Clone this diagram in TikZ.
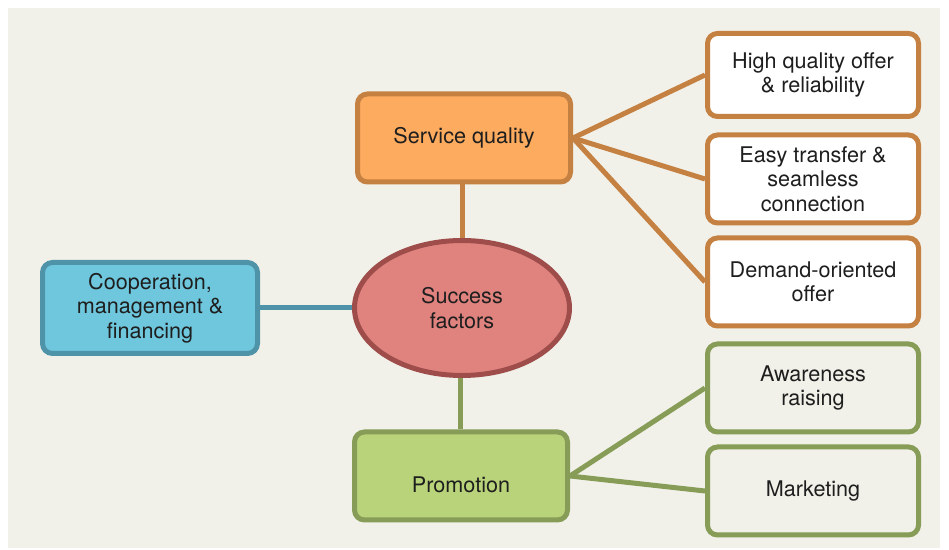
\documentclass[tikz,border=0pt]{standalone}
\usepackage{fontspec}
\setmainfont{TeX Gyre Heros}
\usetikzlibrary{shapes.geometric,backgrounds}

\definecolor{bgpaper}{HTML}{F1F1E9}
\definecolor{sqfill}{HTML}{FDAB5F}
\definecolor{sqline}{HTML}{C58142}
\definecolor{sffill}{HTML}{E0837E}
\definecolor{sfline}{HTML}{9E4D4A}
\definecolor{cofill}{HTML}{6EC7DD}
\definecolor{coline}{HTML}{4F93A8}
\definecolor{prfill}{HTML}{B9D37A}
\definecolor{prline}{HTML}{869C57}
\definecolor{txt}{HTML}{1E1E1E}

\tikzset{
  box/.style={draw, line width=2.5pt, rounded corners=5pt, align=center,
    text=txt, inner sep=0pt, minimum width=106.5pt, minimum height=44pt,
    font=\fontsize{10.8}{12.2}\selectfont},
  leaf/.style={box, minimum width=105.5pt},
  link/.style={line width=2.5pt},
}

\begin{document}
\begin{tikzpicture}[x=0.5pt,y=-0.5pt]
    \useasboundingbox (0,0) rectangle (949,550);

    % main topics
    \node[box, fill=sqfill, draw=sqline] (sq) at (464,138) {Service quality};
    \node[box, ellipse, fill=sffill, draw=sfline, minimum width=107.5pt,
          minimum height=67.5pt] (sf) at (462,308) {Success\\factors};
    \node[box, fill=cofill, draw=coline, minimum width=107.5pt,
          minimum height=45.5pt] (co) at (150,308) {Cooperation,\\management \&\\financing};
    \node[box, fill=prfill, draw=prline] (pr) at (461,476)
        {\raisebox{-4.5pt}[\height][\depth]{Promotion}};

    % service quality leaves
    \node[leaf, fill=white, draw=sqline, minimum height=41.5pt] (hq) at (813,75)
        {High quality offer\\\& reliability};
    \node[leaf, fill=white, draw=sqline] (et) at (813,179)
        {Easy transfer \&\\seamless\\connection};
    \node[leaf, fill=white, draw=sqline] (dm) at (813,282)
        {Demand-oriented\\offer};

    % promotion leaves
    \node[leaf, fill=bgpaper, draw=prline] (aw) at (813,388) {Awareness\\raising};
    \node[leaf, fill=bgpaper, draw=prline] (mk) at (813,491) {Marketing};

    \begin{scope}[on background layer]
        \fill[bgpaper] (8,8) rectangle (940,548);
        \draw[link, sqline] (sf.north |- sq.south) -- (sf.north);
        \draw[link, coline] (co.east) -- (sf.west);
        \draw[link, prline] ([xshift=-1pt]sf.south) -- ([xshift=-1pt]sf.south |- pr.north);
        \draw[link, sqline] (sq.east) -- (hq.west);
        \draw[link, sqline] (sq.east) -- (et.west);
        \draw[link, sqline] (sq.east) -- (dm.west);
        \draw[link, prline] (pr.east) -- (aw.west);
        \draw[link, prline] (pr.east) -- (mk.west);
    \end{scope}

\end{tikzpicture}
\end{document}
